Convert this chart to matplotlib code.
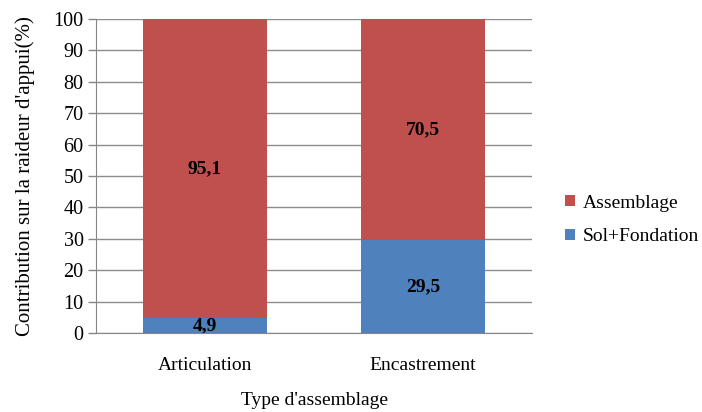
import matplotlib
matplotlib.use("Agg")
import matplotlib.pyplot as plt

categories = ["Articulation", "Encastrement"]
sol_fondation = [4.9, 29.5]
assemblage = [95.1, 70.5]
yticks = [0, 10, 20, 30, 40, 50, 60, 70, 80, 90, 100]

plt.rcParams['font.family'] = ['Liberation Serif', 'DejaVu Serif']

fig = plt.figure(figsize=(7.02, 4.12), dpi=100)
ax = fig.add_axes([96/702, 1 - 333/412, (532 - 96)/702, (333 - 19)/412])

x = list(range(len(categories)))
b1 = ax.bar(x, sol_fondation, width=0.57, color="#4F81BD", label="Sol+Fondation", zorder=3)
b2 = ax.bar(x, assemblage, width=0.57, bottom=sol_fondation, color="#C0504D", label="Assemblage", zorder=3)

def fmt(v):
    return ("%.1f" % v).replace(".", ",")

for i in x:
    ax.text(i, sol_fondation[i] / 2, fmt(sol_fondation[i]), ha="center", va="center",
            fontsize=14, fontweight="bold", zorder=4)
    ax.text(i, sol_fondation[i] + assemblage[i] / 2, fmt(assemblage[i]), ha="center", va="center",
            fontsize=14, fontweight="bold", zorder=4)

ax.set_xlim(-0.5, 1.5)
ax.set_ylim(0, 100)
ax.set_yticks(yticks)
ax.set_xticks(x)
ax.set_xticklabels(categories, fontsize=14)
ax.tick_params(axis="y", labelsize=14.5, length=6, color="#868686", width=1, pad=3)
ax.tick_params(axis="x", length=0, pad=17)
ax.yaxis.grid(True, color="#8c8c8c", linewidth=1, zorder=0)
for s in ["top", "right"]:
    ax.spines[s].set_visible(False)
ax.spines["left"].set_color("#868686")
ax.spines["bottom"].set_color("#868686")
ax.spines["bottom"].set_zorder(5)

ax.set_ylabel("Contribution sur la raideur d'appui(%)", fontsize=15, labelpad=13)
ax.set_xlabel("Type d'assemblage", fontsize=14, labelpad=13)

handles = [b2, b1]
ax.legend(handles, ["Assemblage", "Sol+Fondation"], loc="center left",
          bbox_to_anchor=(1.076, 0.36), frameon=False, fontsize=14,
          borderpad=0, borderaxespad=0,
          handlelength=0.5, handleheight=0.5, handletextpad=0.4, labelspacing=0.85)

fig.savefig("out.png", dpi=100)
